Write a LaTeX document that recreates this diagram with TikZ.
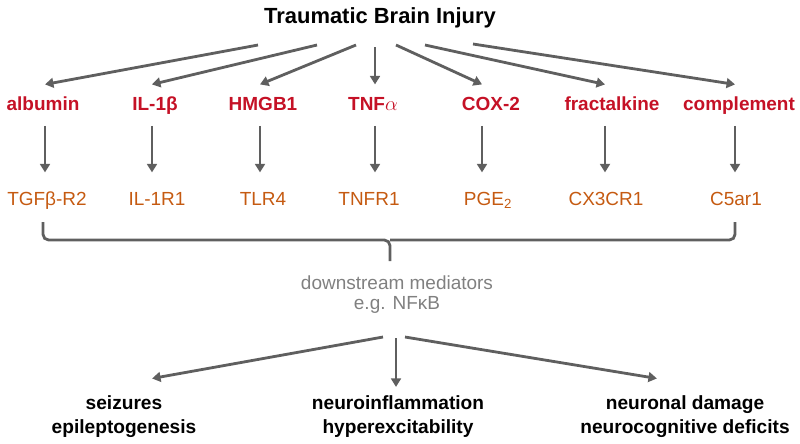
\documentclass[tikz,border=0pt]{standalone}
\usepackage{fontspec}
\setmainfont{Liberation Sans}
\usetikzlibrary{arrows.meta}
\definecolor{lblred}{RGB}{197,17,38}
\definecolor{lblorange}{RGB}{197,90,17}
\definecolor{medgray}{RGB}{128,128,128}
\definecolor{arrgray}{RGB}{95,95,95}
\tikzset{
  arr/.style={draw=arrgray, line width=2pt, -{Triangle[width=7pt,length=6pt]}},
  cause/.style={font=\bfseries\fontsize{13.5}{16}\selectfont, text=lblred, anchor=base,
    inner xsep=0pt, inner ysep=8pt, text height=10pt, text depth=3pt},
  recep/.style={font=\fontsize{13.5}{16}\selectfont, text=lblorange, anchor=base,
    inner xsep=0pt, inner ysep=13pt, text height=10pt, text depth=3pt},
  outcome/.style={font=\bfseries\fontsize{13.6}{16.4}\selectfont, align=center, anchor=base},
  brace/.style={draw=arrgray, line width=2pt, rounded corners=4pt}
}
\begin{document}
\begin{tikzpicture}[x=0.025cm, y=-0.025cm]
    \useasboundingbox (0,0) rectangle (800,443);
    \node[font=\bfseries\fontsize{15.6}{18}\selectfont, anchor=base] (tbi) at (380,23) {Traumatic Brain Injury};

    \coordinate (s1) at (258,45);
    \coordinate (s2) at (317,45);
    \coordinate (s3) at (356,45);
    \coordinate (s4) at (375,47);
    \coordinate (s5) at (396,45);
    \coordinate (s6) at (425,45);
    \coordinate (s7) at (473,44);

    \coordinate (col1) at (45,0);
    \coordinate (col2) at (152,0);
    \coordinate (col3) at (260,0);
    \coordinate (col4) at (375,0);
    \coordinate (col5) at (482,0);
    \coordinate (col6) at (605,0);
    \coordinate (col7) at (735,0);

    \node[cause] (alb) at (43,110) {albumin};
    \node[cause] (il) at (155,110) {IL-1β};
    \node[cause] (hmgb) at (263,110) {HMGB1};
    \node[cause] (tnf) at (373,110) {TNF$\alpha$};
    \node[cause] (cox) at (491,110) {COX-2};
    \node[cause] (frac) at (612,110) {fractalkine};
    \node[cause] (comp) at (739,110) {complement};

    \node[recep] (tgf) at (47,205) {TGFβ-R2};
    \node[recep] (ilr) at (157,205) {IL-1R1};
    \node[recep] (tlr) at (263,205) {TLR4};
    \node[recep] (tnfr) at (369,205) {TNFR1};
    \node[recep] (pge) at (488,205) {PGE\textsubscript{2}};
    \node[recep] (cx) at (606,205) {CX3CR1};
    \node[recep] (c5ar) at (736,205) {C5ar1};

    \draw[arr] (s1) -- (alb.north -| col1);
    \draw[arr] (s2) -- (il.north -| col2);
    \draw[arr] (s3) -- (hmgb.north -| col3);
    \draw[arr] (s4) -- (tnf.north -| col4);
    \draw[arr] (s5) -- (cox.north -| col5);
    \draw[arr] (s6) -- (frac.north -| col6);
    \draw[arr] (s7) -- (comp.north -| col7);

    \draw[arr] (alb.south -| col1) -- (tgf.north -| col1);
    \draw[arr] (il.south -| col2) -- (ilr.north -| col2);
    \draw[arr] (hmgb.south -| col3) -- (tlr.north -| col3);
    \draw[arr] (tnf.south -| col4) -- (tnfr.north -| col4);
    \draw[arr] (cox.south -| col5) -- (pge.north -| col5);
    \draw[arr] (frac.south -| col6) -- (cx.north -| col6);
    \draw[arr] (comp.south -| col7) -- (c5ar.north -| col7);

    \draw[brace] (43,222) -- (43,240) -- (390,240) -- (390,261);
    \draw[brace] (735,222) -- (735,240) -- (390,240);

    \node[font=\fontsize{13.5}{14.2}\selectfont, text=medgray, align=center, anchor=base] (med) at (397,309) {downstream mediators\\e.g. NFκB};

    \coordinate (m1) at (383,337);
    \coordinate (m2) at (396,338);
    \coordinate (m3) at (405,337);

    \node[outcome] (seiz) at (124,433) {seizures\\epileptogenesis};
    \node[outcome] (infl) at (398,433) {neuroinflammation\\hyperexcitability};
    \node[outcome] (dmg) at (685,433) {neuronal damage\\neurocognitive deficits};

    \draw[arr] (m1) -- ([xshift=20pt,yshift=9pt]seiz.north);
    \draw[arr, shorten >=3pt] (m2) -- (infl.north -| m2);
    \draw[arr] (m3) -- ([xshift=-20pt,yshift=9pt]dmg.north);
\end{tikzpicture}
\end{document}
